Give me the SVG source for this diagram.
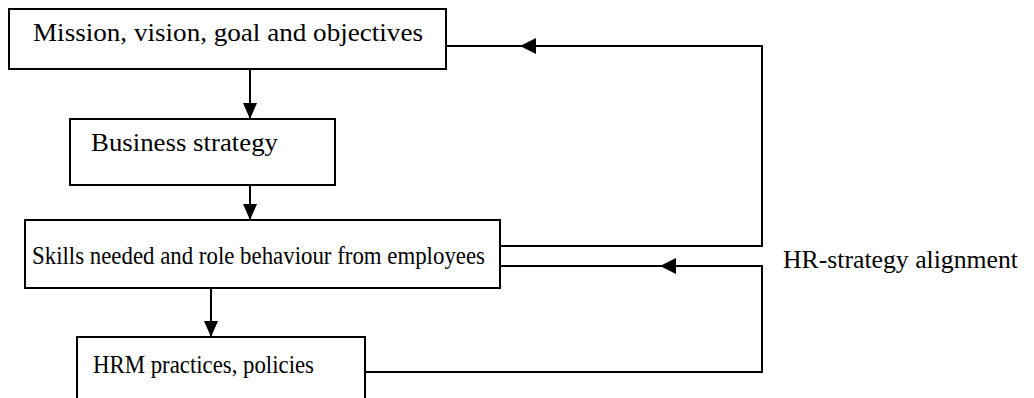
<svg xmlns="http://www.w3.org/2000/svg" width="1034" height="398" viewBox="0 0 1034 398">
<style>
.box{fill:#fff;stroke:#000;stroke-width:2}
.t{font-family:"Liberation Serif","Times New Roman",serif;font-size:26px;fill:#000}
.ln{fill:none;stroke:#000;stroke-width:2}
.ah{fill:#000;stroke:none}
</style>
<defs>
<marker id="arr" viewBox="0 0 16 14" refX="16" refY="7" markerWidth="16" markerHeight="14" markerUnits="userSpaceOnUse" orient="auto">
<path d="M0,0 L16,7 L0,14 Z" fill="#000"/>
</marker>
</defs>
<rect width="1034" height="398" fill="#fff"/>
<g id="connectors">
<line class="ln" x1="250" y1="70" x2="250" y2="119" marker-end="url(#arr)"/>
<line class="ln" x1="250" y1="172" x2="250" y2="220" marker-end="url(#arr)"/>
<line class="ln" x1="211" y1="288" x2="211" y2="337" marker-end="url(#arr)"/>
<polyline class="ln" points="500,246 762,246 762,46 446,46"/>
<polygon class="ah" points="520,46 536,38 536,54"/>
<polyline class="ln" points="365,372 762,372 762,266 500,266"/>
<polygon class="ah" points="660,266 676,258 676,274"/>
</g>
<g id="n1">
<rect class="box" x="9" y="9" width="437" height="60"/>
<text class="t" x="33" y="41" textLength="390" lengthAdjust="spacingAndGlyphs">Mission, vision, goal and objectives</text>
</g>
<g id="n2">
<rect class="box" x="70" y="119" width="265" height="66"/>
<text class="t" x="91" y="151" textLength="187" lengthAdjust="spacingAndGlyphs">Business strategy</text>
</g>
<g id="n3">
<rect class="box" x="25" y="220" width="475" height="68"/>
<text class="t" x="32" y="264" textLength="453" lengthAdjust="spacingAndGlyphs">Skills needed and role behaviour from employees</text>
</g>
<g id="n4">
<rect class="box" x="77" y="337" width="288" height="80"/>
<text class="t" x="93" y="373" textLength="221" lengthAdjust="spacingAndGlyphs">HRM practices, policies</text>
</g>
<g id="label">
<text class="t" x="783" y="268" textLength="235" lengthAdjust="spacingAndGlyphs">HR-strategy alignment</text>
</g>
</svg>
